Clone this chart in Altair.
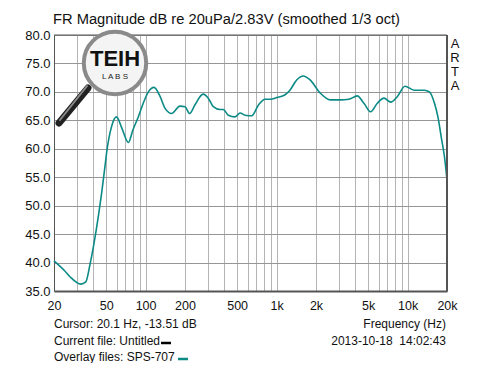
import altair as alt
import pandas as pd

# --- data ---
freq_hz = [20, 24, 26.5, 32, 35, 37.6, 40, 43.6, 46.2, 49, 50.5, 55, 60, 66, 74,
           80, 88, 96, 105, 116, 129, 141, 158, 183, 200, 217, 238, 275, 301,
           329, 370, 392, 428, 481, 527, 575, 647, 728, 818, 894, 1005, 1162,
           1265, 1424, 1602, 1802, 2152, 2570, 3070, 3560, 4128, 4644, 5224,
           5876, 6610, 7436, 8364, 9550, 11230, 13420, 14680, 16050, 17050,
           18060, 19130, 20000]
spl_db = [40.3, 38.6, 37.5, 36.2, 36.6, 39.6, 42.8, 48.1, 52.2, 56.9, 59.4,
          63.9, 65.6, 63.6, 61.1, 63.3, 65.6, 68.0, 70.0, 70.8, 69.2, 67.1,
          66.2, 67.5, 67.4, 66.2, 67.7, 69.6, 68.9, 67.4, 66.9, 66.9, 65.9,
          65.6, 66.3, 65.9, 65.8, 67.7, 68.7, 68.7, 69.0, 69.5, 70.3, 72.1,
          72.8, 72.1, 69.8, 68.6, 68.6, 68.7, 69.3, 68.0, 66.5, 68.0, 68.9,
          68.2, 69.2, 71.0, 70.3, 70.3, 70.0, 68.0, 65.6, 62.1, 58.6, 54.5]

grid_freqs = [20, 30, 40, 50, 60, 70, 80, 90, 100, 200, 300, 400, 500, 600,
              700, 800, 900, 1000, 2000, 3000, 4000, 5000, 6000, 7000, 8000,
              9000, 10000, 20000]
labelled_freqs = [20, 50, 100, 200, 500, 1000, 2000, 5000, 10000, 20000]
db_ticks = [35, 40, 45, 50, 55, 60, 65, 70, 75, 80]

title_text = "FR Magnitude dB re 20uPa/2.83V (smoothed 1/3 oct)"
side_letters = ["A", "R", "T", "A"]
cursor_text = "Cursor: 20.1 Hz, -13.51 dB"
xtitle_text = "Frequency (Hz)"
current_text = "Current file: Untitled"
date_text = "2013-10-18\u00a0\u00a014:02:43"
overlay_text = "Overlay files: SPS-707"

FONT = "Liberation Sans"
TEAL = "#0b8a86"
W, H = 393, 256

df = pd.DataFrame({"f": freq_hz, "db": spl_db})

lbl_list = "[" + ",".join(str(v) for v in labelled_freqs) + "]"
label_expr = (f"indexof({lbl_list}, datum.value) < 0 ? '' : "
              "(datum.value >= 1000 ? (datum.value/1000) + 'k' : '' + datum.value)")

xscale = alt.Scale(type="log", domain=[20, 20000], nice=False)
yscale = alt.Scale(domain=[35, 80], nice=False)

line = alt.Chart(df).mark_line(color=TEAL, strokeWidth=1.6, interpolate="monotone").encode(
    x=alt.X("f:Q", scale=xscale,
            axis=alt.Axis(values=grid_freqs, labelExpr=label_expr, title=None,
                          grid=True, gridColor="#b4b4b4", gridWidth=1,
                          ticks=False, domainColor="#555555", domainWidth=2,
                          labelFont=FONT, labelFontSize=12.5, labelColor="#111111",
                          labelPadding=8, labelFlush=False, labelOverlap=False)),
    y=alt.Y("db:Q", scale=yscale,
            axis=alt.Axis(values=db_ticks, format=".1f", title=None,
                          grid=True, gridColor="#969696", gridWidth=1,
                          ticks=False, domainColor="#555555", domainWidth=1,
                          labelFont=FONT, labelFontSize=13, labelColor="#111111",
                          labelPadding=4)),
)

one = pd.DataFrame({"k": [0]})


def txt(text, x, y, align="left", size=12, weight="normal", color="#111111"):
    return alt.Chart(one).mark_text(
        align=align, baseline="middle", font=FONT, fontSize=size,
        fontWeight=weight, color=color,
    ).encode(x=alt.value(x), y=alt.value(y), text=alt.value(text))


layers = [line]

# right frame edge (thicker)
layers.append(alt.Chart(one).mark_rule(color="#555555", strokeWidth=2).encode(
    x=alt.value(W), y=alt.value(0), y2=alt.value(H)))
# top frame edge
layers.append(alt.Chart(one).mark_rule(color="#555555", strokeWidth=1).encode(
    x=alt.value(0), x2=alt.value(W), y=alt.value(0)))

# logo: magnifier
layers.append(alt.Chart(one).mark_rule(color="#222222", strokeWidth=7, strokeCap="round").encode(
    x=alt.value(34), x2=alt.value(5), y=alt.value(53), y2=alt.value(88)))
layers.append(alt.Chart(one).mark_rule(color="#8a8a8a", strokeWidth=2, strokeCap="round").encode(
    x=alt.value(33), x2=alt.value(6), y=alt.value(51), y2=alt.value(85)))
layers.append(alt.Chart(one).mark_point(shape="circle", filled=True, size=3900,
                                        fill="#f4f4f4", stroke="#8a8a8a",
                                        strokeWidth=4, opacity=1).encode(
    x=alt.value(61), y=alt.value(28)))
layers.append(txt("TEIH", 61, 24, align="center", size=22, weight="bold", color="#111111"))
layers.append(txt("L A B S", 61, 42, align="center", size=8, color="#222222"))

# texts
layers.append(txt(title_text, -1, -15, size=14.7))
for i, ch in enumerate(side_letters):
    layers.append(txt(ch, 401, 8.5 + 14.3 * i, align="center", size=13))
layers.append(txt(cursor_text, 0, 289))
layers.append(txt(xtitle_text, 392, 289, align="right"))
layers.append(txt(current_text, 0, 306))
layers.append(alt.Chart(one).mark_rule(color="#000000", strokeWidth=2.5).encode(
    x=alt.value(107), x2=alt.value(117), y=alt.value(308)))
layers.append(txt(date_text, 392, 306, align="right"))
layers.append(txt(overlay_text, 0, 322))
layers.append(alt.Chart(one).mark_rule(color=TEAL, strokeWidth=2.5).encode(
    x=alt.value(124), x2=alt.value(134), y=alt.value(324)))

chart = alt.layer(*layers).properties(
    width=W, height=H,
    autosize=alt.AutoSizeParams(type="none"),
    padding={"left": 46, "top": 27, "right": 45, "bottom": 72},
    background="white",
).configure_view(stroke=None)

chart.save("out.html", embed_options={"renderer": "svg", "actions": False})
